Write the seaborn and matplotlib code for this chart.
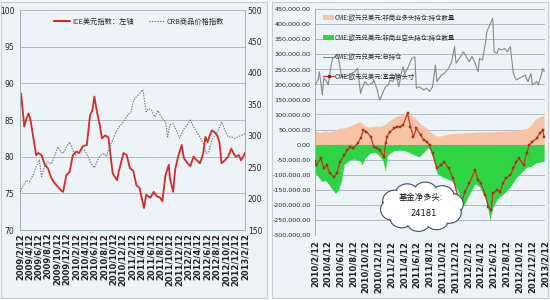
import numpy as np
import pandas as pd
import matplotlib
matplotlib.use("Agg")
import matplotlib.pyplot as plt
import seaborn as sns
from matplotlib.patches import Rectangle, Patch, Ellipse
from matplotlib.lines import Line2D
from matplotlib import font_manager

# ---------------- data: left panel (weekly index since 2009/2/12) ----------------
left_start = "2009-02-12"
ice_weeks = [0, 1, 4, 6, 8, 10, 12, 14, 15, 17, 20, 23, 26, 29, 32, 35, 38, 40, 43, 46,
             49, 52, 55, 58, 62, 65, 67, 69, 71, 74, 76, 79, 82, 83, 86, 90, 92, 96, 99, 102,
             105, 108, 111, 115, 117, 121, 124, 127, 130, 132, 135, 138, 139, 142, 144, 147,
             150, 152, 155, 158, 161, 164, 167, 170, 172, 174, 176, 178, 180, 183, 185, 187,
             190, 193, 196, 198, 200, 203, 205, 207, 209]
ice_values = [88.0, 88.6, 84.1, 85.2, 85.9, 84.8, 82.9, 81.1, 80.2, 80.5, 80.2, 78.9, 78.4,
              77.1, 76.4, 75.9, 75.4, 75.2, 77.5, 77.9, 80.2, 80.7, 80.5, 81.4, 81.6, 85.7,
              86.2, 88.2, 86.4, 84.3, 82.5, 82.9, 82.6, 81.4, 77.7, 76.8, 78.2, 80.5, 80.2,
              78.4, 78.1, 76.1, 75.7, 73.0, 74.8, 74.4, 75.2, 74.6, 74.4, 73.9, 77.5, 78.9,
              77.1, 75.2, 78.3, 80.2, 81.6, 79.8, 79.2, 78.7, 80.0, 79.5, 79.1, 80.5, 82.7,
              82.0, 82.9, 83.6, 83.4, 82.9, 81.9, 79.1, 79.5, 80.0, 81.1, 80.5, 80.0, 80.2,
              79.5, 80.0, 80.6]
crb_weeks = [0, 3, 6, 9, 12, 15, 18, 20, 23, 26, 29, 32, 35, 38, 40, 43, 46, 49, 51, 54,
             57, 60, 63, 66, 69, 72, 75, 78, 80, 83, 86, 89, 92, 96, 100, 103, 105, 108, 111,
             114, 117, 119, 122, 125, 128, 131, 135, 137, 139, 142, 145, 148, 152, 155, 158,
             161, 164, 167, 170, 173, 175, 178, 181, 184, 187, 190, 193, 196, 199, 202, 206, 209]
crb_values = [211, 221, 229, 227, 237, 251, 261, 235, 253, 258, 255, 267, 282, 274, 272, 282,
              290, 277, 269, 274, 277, 277, 267, 256, 249, 261, 269, 272, 267, 282, 293, 306,
              314, 322, 333, 338, 354, 362, 367, 373, 338, 343, 341, 330, 340, 330, 322, 298,
              317, 319, 309, 296, 311, 317, 325, 314, 306, 298, 288, 272, 274, 293, 301, 309,
              322, 309, 298, 298, 296, 298, 301, 303]
left_ticks = ["2009/2/12", "2009/4/12", "2009/6/12", "2009/8/12", "2009/10/12", "2009/12/12",
              "2010/2/12", "2010/4/12", "2010/6/12", "2010/8/12", "2010/10/12", "2010/12/12",
              "2011/2/12", "2011/4/12", "2011/6/12", "2011/8/12", "2011/10/12", "2011/12/12",
              "2012/2/12", "2012/4/12", "2012/6/12", "2012/8/12", "2012/10/12", "2012/12/12",
              "2013/2/12"]
left_y = [70, 75, 80, 85, 90, 95, 100]
left_y2 = [150, 200, 250, 300, 350, 400, 450, 500]

# ---------------- data: right panel (weekly index since 2010/2/12), thousands ----------------
right_start = "2010-02-12"
oi_weeks = [0, 2, 3, 5, 6, 8, 9, 11, 12, 15, 16, 17, 18, 20, 23, 25, 27, 29, 31, 32, 34, 36,
            39, 40, 42, 44, 45, 48, 50, 51, 53, 55, 57, 59, 60, 61, 63, 65, 66, 68, 69, 71, 74,
            76, 78, 80, 82, 83, 86, 88, 91, 93, 95, 96, 99, 101, 103, 105, 107, 109, 111, 112,
            114, 116, 117, 119, 121, 122, 124, 125, 127, 129, 131, 133, 135, 137, 139, 141,
            143, 145, 147, 148, 151, 152, 154, 155, 156]
oi_values = [198, 214, 242, 165, 221, 209, 198, 264, 286, 297, 286, 258, 225, 225, 231, 236,
             242, 253, 170, 187, 209, 198, 203, 214, 187, 148, 159, 192, 198, 214, 209, 236,
             192, 242, 258, 236, 253, 275, 286, 291, 187, 192, 181, 187, 176, 192, 264, 209,
             231, 236, 253, 275, 325, 270, 292, 308, 292, 275, 292, 270, 242, 286, 281, 336,
             375, 397, 419, 308, 303, 319, 314, 319, 308, 325, 236, 214, 220, 225, 231, 209,
             236, 198, 209, 198, 231, 253, 242]
long_weeks = [0, 3, 7, 10, 14, 17, 20, 24, 27, 31, 34, 37, 41, 44, 48, 51, 54, 58, 61, 63, 66,
              69, 71, 75, 78, 82, 85, 88, 92, 99, 105, 112, 119, 126, 133, 139, 145, 148, 150,
              153, 156]
long_values = [45, 40, 45, 42, 48, 55, 55, 62, 70, 76, 62, 58, 62, 60, 68, 80, 90, 98, 104,
               112, 95, 85, 72, 58, 45, 30, 28, 32, 36, 38, 40, 42, 42, 44, 45, 48, 55, 70, 85,
               92, 98]
short_weeks = [0, 2, 5, 7, 9, 12, 14, 16, 18, 19, 20, 24, 27, 31, 32, 34, 37, 41, 44, 46, 48,
               49, 51, 54, 58, 61, 65, 68, 71, 75, 77, 78, 80, 83, 86, 88, 93, 97, 101, 104,
               109, 112, 116, 118, 119, 121, 124, 128, 133, 137, 140, 144, 147, 150, 153, 156]
short_values = [-95, -105, -123, -118, -130, -150, -162, -150, -120, -90, -65, -50, -48, -55,
                -68, -45, -30, -25, -38, -50, -88, -40, -28, -20, -18, -20, -28, -35, -40, -20,
                -10, -15, -40, -95, -105, -110, -120, -150, -205, -175, -130, -140, -180, -220,
                -250, -210, -180, -165, -140, -110, -95, -75, -72, -62, -58, -55]
net_weeks = [0, 1, 4, 6, 8, 10, 13, 15, 17, 20, 22, 24, 26, 29, 31, 33, 35, 38, 40, 42, 44,
             47, 48, 49, 51, 54, 56, 58, 60, 63, 65, 67, 69, 72, 74, 76, 78, 80, 83, 86, 88,
             91, 94, 97, 100, 102, 105, 109, 111, 113, 116, 118, 120, 121, 124, 126, 128, 130,
             133, 135, 137, 139, 142, 144, 146, 148, 151, 153, 155, 156]
net_values = [-55, -68, -46, -79, -68, -95, -107, -95, -57, -35, -18, -7, -12, 4, 21, 48, 43,
              26, -7, -12, -18, -40, 4, 26, 43, 54, 60, 60, 65, 104, 60, 26, 54, 32, 15, 10,
              -1, -29, -79, -68, -57, -79, -112, -167, -189, -156, -129, -84, -118, -129, -167,
              -206, -217, -162, -151, -156, -129, -112, -101, -79, -57, -46, -68, -29, -1, 10,
              21, 37, 48, 24]
right_ticks = ["2010/2/12", "2010/4/12", "2010/6/12", "2010/8/12", "2010/10/12", "2010/12/12",
               "2011/2/12", "2011/4/12", "2011/6/12", "2011/8/12", "2011/10/12", "2011/12/12",
               "2012/2/12", "2012/4/12", "2012/6/12", "2012/8/12", "2012/10/12", "2012/12/12",
               "2013/2/12"]
right_y = [-300000, -250000, -200000, -150000, -100000, -50000, 0, 50000, 100000, 150000,
           200000, 250000, 300000, 350000, 400000, 450000]
labels_right = ["CME:欧元兑美元:非商业多头持仓:持仓数量", "CME:欧元兑美元:非商业空头持仓:持仓数量",
                "CME:欧元兑美元:总持仓", "CME:欧元兑美元:基金净头寸"]
cloud_text = ["基金净多头:", "24181"]

# ---------------- style ----------------
sns.set_theme(style="white")
plt.rcParams["font.family"] = ["Noto Sans CJK SC", "DejaVu Sans"]
installed = {f.name for f in font_manager.fontManager.ttflist}
narrow = ["Liberation Sans Narrow"] if "Liberation Sans Narrow" in installed else []
num_family = narrow + ["DejaVu Sans"]

PANEL = "#edf4f8"
GRID = "#aeb9c2"
SPINE = "#9fb0bd"


def to_dates(start, weeks):
    return pd.Timestamp(start) + pd.to_timedelta(np.array(weeks) * 7, unit="D")


fig = plt.figure(figsize=(5.5, 3.0), dpi=100)
fig.patch.set_facecolor("#f7f9fa")
fig.patches.append(Rectangle((1 / 550, 2 / 300), 266 / 550, 296 / 300, transform=fig.transFigure,
                             facecolor=PANEL, edgecolor="#c5ced5", lw=0.8, zorder=-10))
fig.patches.append(Rectangle((272 / 550, 2 / 300), 276 / 550, 296 / 300, transform=fig.transFigure,
                             facecolor=PANEL, edgecolor="#c5ced5", lw=0.8, zorder=-10))

# ================= left panel =================
axL = fig.add_axes([20 / 550, 1 - 230 / 300, 225 / 550, 220 / 300])
axL.set_facecolor("none")
axL2 = axL.twinx()
axL2.set_facecolor("none")

ice_df = pd.DataFrame({"date": to_dates(left_start, ice_weeks), "value": ice_values})
crb_df = pd.DataFrame({"date": to_dates(left_start, crb_weeks), "value": crb_values})
sns.lineplot(data=ice_df, x="date", y="value", ax=axL, color="#d42a2a", lw=1.3, zorder=3)
sns.lineplot(data=crb_df, x="date", y="value", ax=axL2, color="#66707c", lw=0.8,
             linestyle=(0, (1.2, 1.2)), zorder=3)

lt = pd.to_datetime(left_ticks, format="%Y/%m/%d")
axL.set_xlim(lt[0], lt[-1])
axL.set_xticks(lt)
axL.set_xticklabels(left_ticks, rotation=90, fontsize=6, fontweight="bold",
                    family=num_family, color="#222222")
axL.set_ylim(70, 100)
axL.set_yticks(left_y)
axL.set_yticklabels([str(v) for v in left_y], fontsize=5.5, family=num_family, color="#222")
axL2.set_ylim(150, 500)
axL2.set_yticks(left_y2)
axL2.set_yticklabels([str(v) for v in left_y2], fontsize=5.5, family=num_family, color="#222")
axL.set_xlabel("")
axL.set_ylabel("")
axL2.set_ylabel("")
axL.yaxis.grid(True, color=GRID, lw=0.7)
axL.set_axisbelow(True)
axL.tick_params(axis="x", direction="in", length=2, pad=2, color=SPINE)
axL.tick_params(axis="y", length=0, pad=4)
axL2.tick_params(axis="y", length=0, pad=2)
for a in (axL, axL2):
    for s in a.spines.values():
        s.set_color(SPINE)
        s.set_linewidth(0.7)
    a.spines["top"].set_visible(False)

hL = [Line2D([], [], color="#d42a2a", lw=1.5),
      Line2D([], [], color="#66707c", lw=0.8, linestyle=(0, (1.2, 1.2)))]
axL2.legend(hL, ["ICE美元指数：左轴", "CRB商品价格指数"], loc="upper center",
            bbox_to_anchor=(0.53, 0.995), ncol=2, frameon=False, fontsize=5.2,
            handlelength=2.2, columnspacing=2.0, handletextpad=0.3)

# ================= right panel =================
axR = fig.add_axes([315 / 550, 1 - 235 / 300, 230 / 550, 226 / 300])
axR.set_facecolor("none")

ld = to_dates(right_start, long_weeks)
sd = to_dates(right_start, short_weeks)
axR.fill_between(ld, 0, np.array(long_values) * 1000, color="#f6c4a5", lw=0, zorder=2)
axR.fill_between(sd, 0, np.array(short_values) * 1000, color="#2fd444", lw=0, zorder=2)

oi_df = pd.DataFrame({"date": to_dates(right_start, oi_weeks), "value": np.array(oi_values) * 1000})
net_df = pd.DataFrame({"date": to_dates(right_start, net_weeks), "value": np.array(net_values) * 1000})
sns.lineplot(data=oi_df, x="date", y="value", ax=axR, color="#7d8b98", lw=0.8, zorder=3)
sns.lineplot(data=net_df, x="date", y="value", ax=axR, color="#cc3322", lw=0.9, marker="s",
             markersize=1.6, markeredgecolor="#7a2a00", markeredgewidth=0.3, zorder=4)

rt = pd.to_datetime(right_ticks, format="%Y/%m/%d")
axR.set_xlim(rt[0], rt[-1])
axR.set_xticks(rt)
axR.set_xticklabels(right_ticks, rotation=90, fontsize=6, fontweight="bold",
                    family=num_family, color="#222222")
axR.set_ylim(-300000, 450000)
axR.set_yticks(right_y)
axR.set_yticklabels([f"{v:,.2f}" for v in right_y], fontsize=4.6, family=num_family, color="#222")
axR.set_xlabel("")
axR.set_ylabel("")
axR.yaxis.grid(True, color=GRID, lw=0.7, zorder=1)
axR.set_axisbelow(True)
axR.tick_params(axis="x", length=0, pad=4)
axR.tick_params(axis="y", length=0, pad=3)
for k, s in axR.spines.items():
    s.set_color(SPINE)
    s.set_linewidth(0.7)
    s.set_visible(k == "left")

hR = [Patch(facecolor="#f6c4a5", edgecolor="none"),
      Patch(facecolor="#2fd444", edgecolor="none"),
      Line2D([], [], color="#7d8b98", lw=0.8),
      Line2D([], [], color="#cc3322", lw=0.9, marker="s", markersize=1.6,
             markeredgecolor="#7a2a00")]
legR = axR.legend(hR, labels_right, loc="upper left", bbox_to_anchor=(0.02, 0.995),
                  frameon=False, fontsize=4.6, labelspacing=1.8, handlelength=1.6,
                  handleheight=0.9, handletextpad=0.2, borderaxespad=0.2)
legR.set_zorder(6)

# cloud callout (axes-fraction geometry)
cx, cy, a, b = 0.465, 0.125, 0.13, 0.062
angles = np.linspace(0, 2 * np.pi, 10, endpoint=False) + 0.2
lobes = [(cx + a * np.cos(t), cy + b * np.sin(t)) for t in angles]
for (x, y) in lobes:
    axR.add_patch(Ellipse((x, y), 0.105, 0.095, transform=axR.transAxes,
                          facecolor="white", edgecolor="#3d4d66", lw=0.8, zorder=7))
for (x, y) in lobes:
    axR.add_patch(Ellipse((x, y), 0.095, 0.085, transform=axR.transAxes,
                          facecolor="white", edgecolor="none", zorder=8))
axR.add_patch(Ellipse((cx, cy), 2 * a + 0.02, 2 * b + 0.03, transform=axR.transAxes,
                      facecolor="white", edgecolor="none", zorder=8))
axR.text(cx - 0.005, cy + 0.04, cloud_text[0], transform=axR.transAxes, ha="center",
         va="center", fontsize=6, color="#111", zorder=9)
axR.text(cx + 0.005, cy - 0.03, cloud_text[1], transform=axR.transAxes, ha="center",
         va="center", fontsize=6, color="#111", family=num_family, zorder=9)

fig.savefig("out.png", dpi=100, facecolor=fig.get_facecolor())
